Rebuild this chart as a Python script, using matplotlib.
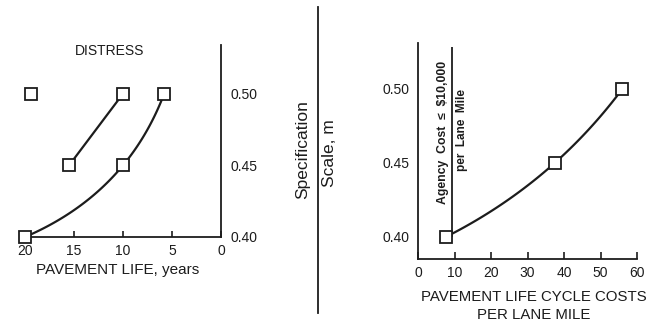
import numpy as np
import matplotlib
matplotlib.use("Agg")
import matplotlib.pyplot as plt
from matplotlib.lines import Line2D

plt.rcParams['font.family'] = ['Liberation Sans', 'DejaVu Sans']

# ---- data ----
# Left panel: pavement life (years) vs specification scale
life_lower = [20, 10, 5.8]
scale_lower = [0.40, 0.45, 0.50]
life_upper = [15.5, 10]
scale_upper = [0.45, 0.50]
life_single = [19.4]
scale_single = [0.50]
left_xticks = [20, 15, 10, 5, 0]
scale_ticks = [0.40, 0.45, 0.50]
scale_ticklabels = ["0.40", "0.45", "0.50"]

# Right panel: life cycle costs vs specification scale
cost = [7.7, 37.5, 56]
scale_cost = [0.40, 0.45, 0.50]
right_xticks = [0, 10, 20, 30, 40, 50, 60]
agency_limit = 9.3

INK = '#1c1c1c'
W, H = 662, 324
fig = plt.figure(figsize=(W / 100, H / 100), dpi=100)


def fx(px):
    return px / W


def fy(py):
    return 1 - py / H


def smooth(ax, xs, ys, n=100):
    """Parametric quadratic through the points, chord-length parameterised
    in display space."""
    pts = ax.transData.transform(np.column_stack([xs, ys]))
    if len(xs) < 3:
        return list(xs), list(ys)
    d = np.r_[0, np.cumsum(np.hypot(*np.diff(pts, axis=0).T))]
    t = d / d[-1]
    cx = np.polyfit(t, pts[:, 0], 2)
    cy = np.polyfit(t, pts[:, 1], 2)
    tt = np.linspace(0, 1, n)
    disp = np.column_stack([np.polyval(cx, tt), np.polyval(cy, tt)])
    data = ax.transData.inverted().transform(disp)
    return data[:, 0], data[:, 1]


# ---- left axes ----
ax1 = fig.add_axes([fx(25), fy(237), fx(221) - fx(25), fy(45) - fy(237)])
ax1.set_xlim(20, 0)
ax1.set_ylim(0.40, 0.534)
for s in ['left', 'top']:
    ax1.spines[s].set_visible(False)
for s in ['right', 'bottom']:
    ax1.spines[s].set_linewidth(1.3)
    ax1.spines[s].set_color(INK)
ax1.yaxis.tick_right()
ax1.set_yticks(scale_ticks)
ax1.set_yticklabels(scale_ticklabels)
ax1.tick_params(axis='y', length=0, pad=7, labelsize=10, colors=INK)
ax1.set_xticks(left_xticks)
ax1.set_xticklabels([str(v) for v in left_xticks])
ax1.tick_params(axis='x', direction='in', length=4, width=1.2, pad=5,
                labelsize=10, colors=INK)

xs, ys = smooth(ax1, life_lower, scale_lower)
ax1.plot(xs, ys, color=INK, lw=1.6, clip_on=False)
xs, ys = smooth(ax1, life_upper, scale_upper)
ax1.plot(xs, ys, color=INK, lw=1.6, clip_on=False)
mk = dict(marker='s', ms=8, mfc='white', mec=INK, mew=1.3, ls='none',
          clip_on=False, zorder=5)
ax1.plot(life_lower, scale_lower, **mk)
ax1.plot(life_upper, scale_upper, **mk)
ax1.plot(life_single, scale_single, **mk)

fig.text(fx(110), fy(51), "DISTRESS", ha='center', va='center',
         fontsize=10, color=INK)
fig.text(fx(118), fy(270), "PAVEMENT LIFE, years", ha='center',
         va='center', fontsize=11, color=INK)

# ---- middle ----
fig.add_artist(Line2D([fx(318), fx(318)], [fy(7), fy(313)], color=INK,
                      lw=1.3))
fig.text(fx(303), fy(150), "Specification", rotation=90, ha='center',
         va='center', fontsize=12.5, color=INK)
fig.text(fx(330), fy(153), "Scale, m", rotation=90, ha='center',
         va='center', fontsize=12.5, color=INK)

# ---- right axes ----
ax2 = fig.add_axes([fx(418), fy(259), fx(637) - fx(418), fy(43) - fy(259)])
ax2.set_xlim(0, 60)
ax2.set_ylim(0.385, 0.531)
for s in ['right', 'top']:
    ax2.spines[s].set_visible(False)
for s in ['left', 'bottom']:
    ax2.spines[s].set_linewidth(1.3)
    ax2.spines[s].set_color(INK)
ax2.set_yticks(scale_ticks)
ax2.set_yticklabels(scale_ticklabels)
ax2.tick_params(axis='y', length=0, pad=6, labelsize=10, colors=INK)
ax2.set_xticks(right_xticks)
ax2.set_xticklabels([str(v) for v in right_xticks])
ax2.tick_params(axis='x', direction='in', length=5, width=1.2, pad=5,
                labelsize=10, colors=INK)

xs, ys = smooth(ax2, cost, scale_cost)
ax2.plot(xs, ys, color=INK, lw=1.6)
ax2.plot(cost, scale_cost, **mk)
ax2.vlines(agency_limit, scale_cost[0], 0.528, color=INK, lw=1.3)
ax2.text(6.85, 0.4707, "Agency  Cost  \u2264  $10,000", rotation=90,
         ha='center', va='center', fontsize=8.8, fontweight='bold', color=INK)
ax2.text(12.1, 0.472, "per  Lane  Mile", rotation=90, ha='center',
         va='center', fontsize=8.5, fontweight='bold', color=INK)

fig.text(fx(534), fy(297), "PAVEMENT LIFE CYCLE COSTS", ha='center',
         va='center', fontsize=10.8, color=INK)
fig.text(fx(534), fy(315), "PER LANE MILE", ha='center', va='center',
         fontsize=10.8, color=INK)

fig.savefig("out.png", dpi=100)
